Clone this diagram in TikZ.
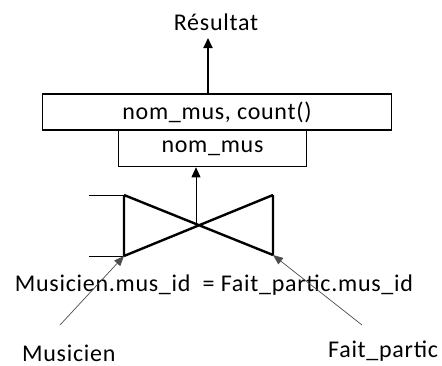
\documentclass[tikz,border=0pt]{standalone}
\usepackage{fontspec}
\setmainfont{Carlito}[LetterSpace=3]
\usetikzlibrary{arrows.meta,positioning}
\tikzset{
	boite/.style={draw, line width=1.3pt, minimum height=36pt, inner sep=0pt, font=\fontsize{24}{26}\selectfont},
	lbl/.style={inner sep=0pt, font=\fontsize{24}{26}\selectfont},
	fleche/.style={-{Triangle[length=10pt,width=9pt]}, line width=1.8pt},
	fleche fine/.style={-{Triangle[length=10pt,width=9pt]}, line width=0.9pt},
	fil/.style={line width=0.7pt, black!70, -{Triangle[length=10pt,width=8pt]}},
	trait/.style={line width=2.4pt},
}

\begin{document}
\begin{tikzpicture}[x=1pt,y=-1pt]
	\useasboundingbox (0,0) rectangle (442,365);
	% operateurs
	\node[lbl] (res) at (216,22) {Résultat};
	\node[boite, minimum width=349pt] (agg) at (217,112) {nom\_mus, count()};
	\node[boite, minimum width=188pt, anchor=north] (proj) at (212.5,130) {nom\_mus};
	\draw[fleche] (agg.north -| 208,0) -- (208,38);
	% jointure
	\coordinate (nw) at (124,195);
	\coordinate (sw) at (124,256);
	\coordinate (ne) at (273,195);
	\coordinate (se) at (273,255);
	\coordinate (join) at (196,226);
	\draw[line width=0.9pt] (89,195) -- (nw);
	\draw[line width=0.9pt] (89,256) -- (sw);
	\draw[trait] (nw) -- (sw) (ne) -- (se) (nw) -- (se) (sw) -- (ne);
	\draw[fleche fine] (join) -- (join |- proj.south);
	\node[lbl, anchor=base] (cond) at (214,291) {Musicien.mus\_id\ \ = Fait\_partic.mus\_id};
	% relations
	\node[lbl, anchor=base west] (musicien) at (22,361) {Musicien};
	\node[lbl, anchor=base west] (fait) at (328,357) {Fait\_partic};
	\coordinate (pm) at (60,325);
	\coordinate (pf) at (362,325);
	\draw[fil] (pm) -- (sw);
	\draw[fil] (pf) -- (se);
\end{tikzpicture}
\end{document}
